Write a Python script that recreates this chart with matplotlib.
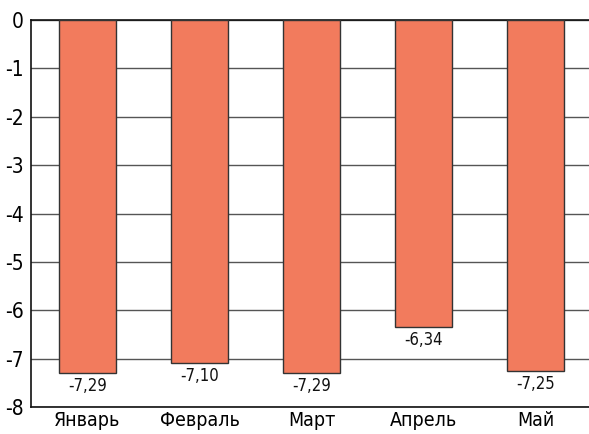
import matplotlib
matplotlib.use("Agg")
import matplotlib.pyplot as plt

categories = ["Январь", "Февраль", "Март", "Апрель", "Май"]
values = [-7.29, -7.10, -7.29, -6.34, -7.25]
labels = ["-7,29", "-7,10", "-7,29", "-6,34", "-7,25"]
yticks = [0, -1, -2, -3, -4, -5, -6, -7, -8]

plt.rcParams['font.family'] = ["DejaVu Sans"]
plt.rcParams['font.stretch'] = "condensed"

fig = plt.figure(figsize=(5.89, 4.34), dpi=100)
ax = fig.add_axes([31/589, (434-407)/434, (589-31)/589, (407-20)/434])

x = list(range(len(categories)))
ax.set_axisbelow(True)
ax.yaxis.grid(True, color="#555555", linewidth=1)
ax.bar(x, values, width=0.51, color="#F27B5D", edgecolor="#333333", linewidth=1, zorder=3)
for xi, v, lab in zip(x, values, labels):
    ax.text(xi, v - 0.08, lab, ha="center", va="top", fontsize=12, color="#111111")

ax.set_ylim(-8, 0)
ax.set_xlim(-0.504, 4.478)
ax.set_yticks(yticks)
ax.set_yticklabels([str(t) for t in yticks], fontsize=15)
ax.set_xticks(x)
ax.set_xticklabels(categories, fontsize=14)
ax.tick_params(axis="both", length=0)
ax.tick_params(axis="x", pad=3)
ax.tick_params(axis="y", pad=5)
for s in ["left", "top", "bottom"]:
    ax.spines[s].set_color("#111111")
    ax.spines[s].set_linewidth(1.2)
ax.spines["right"].set_visible(False)

fig.savefig("out.png", dpi=100)
